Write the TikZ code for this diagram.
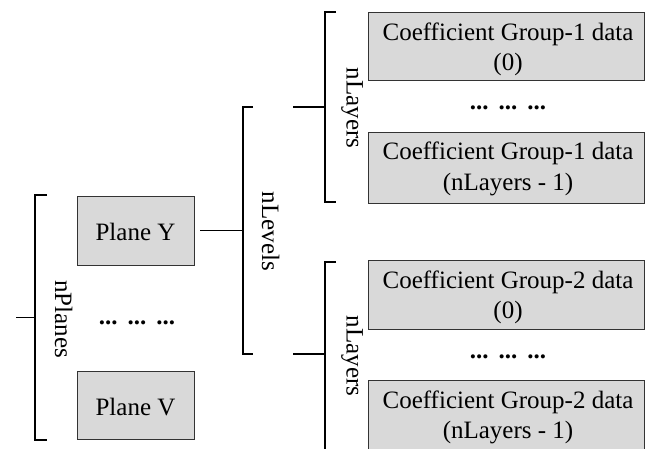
\documentclass[tikz,border=0pt]{standalone}
\usepackage{fontspec}
\setmainfont{Liberation Serif}
\usetikzlibrary{calc}
\newcommand{\mydots}{\textbf{...}\hspace{10pt}\textbf{...}\hspace{10pt}\textbf{...}}
\begin{document}
\begin{tikzpicture}[x=1pt,y=-1pt,
  font=\fontsize{25}{30}\selectfont,
  box/.style={draw=black!80, line width=0.8pt, fill=black!15, inner sep=0pt},
  br/.style={line width=1.2pt, black},
  lbl/.style={anchor=base, inner sep=0pt},
  vlbl/.style={anchor=base, rotate=-90, inner sep=0pt}]
\clip (0,0) rectangle (653,448);
% plane boxes
\node[box, minimum width=117pt, minimum height=69pt] (py) at (135.5,230.5) {};
\node[lbl] (pyt) at (135.5,240) {Plane Y};
\node[box, minimum width=117pt, minimum height=68pt] (pv) at (135.5,405) {};
\node[lbl] (pvt) at (135.5,415) {Plane V};
\node[lbl] (pdots) at (137,324) {\mydots};
% coefficient boxes
\node[box, minimum width=276pt, minimum height=68pt] (c1a) at (506,46) {};
\node[lbl] (c1a1) at (508,40) {Coefficient Group-1 data};
\node[lbl] (c1a2) at (508,70) {(0)};
\node[box, minimum width=276pt, minimum height=71pt] (c1b) at (506,167.5) {};
\node[lbl] (c1b1) at (508,159.5) {Coefficient Group-1 data};
\node[lbl] (c1b2) at (508,190) {(nLayers - 1)};
\node[lbl] (c1dots) at (508,109) {\mydots};
\node[box, minimum width=276pt, minimum height=69pt] (c2a) at (506,294.5) {};
\node[lbl] (c2a1) at (508,288) {Coefficient Group-2 data};
\node[lbl] (c2a2) at (508,318) {(0)};
\node[box, minimum width=276pt, minimum height=71pt] (c2b) at (506,415.5) {};
\node[lbl] (c2b1) at (508,408.5) {Coefficient Group-2 data};
\node[lbl] (c2b2) at (508,438) {(nLayers - 1)};
\node[lbl] (c2dots) at (508,358) {\mydots};
% bracket coordinates
\coordinate (pt) at (47,195);   \coordinate (pm) at (35,317.5);
\coordinate (pb) at (47,440);   \coordinate (ps) at (16,317.5);
\coordinate (lt) at (253,107);  \coordinate (lm) at (243,230.5);
\coordinate (lb) at (253,354);
\coordinate (ut) at (336,12);   \coordinate (um) at (325,107);
\coordinate (ub) at (336,202);  \coordinate (us) at (293,107);
\coordinate (wt) at (336,262);  \coordinate (wm) at (325,354);
\coordinate (wb) at (336,452);  \coordinate (ws) at (293,354);
% brackets
\draw[br] (pt) -| (pm) |- (pb);
\draw[br] (ps) -- (pm);
\draw[br] (lt) -| (lm) |- (lb);
\draw[br] ([xshift=6pt]py.east) -- (lm);
\draw[br] (ut) -| (um) |- (ub);
\draw[br] (us) -- (um);
\draw[br] (wt) -| (wm) |- (wb);
\draw[br] (ws) -- (wm);
% rotated labels
\node[vlbl] (np) at (55,319) {nPlanes};
\node[vlbl] (nl) at (262,231.5) {nLevels};
\node[vlbl] (nl1) at (346.5,108) {nLayers};
\node[vlbl] (nl2) at (346.5,356) {nLayers};
\end{tikzpicture}
\end{document}
